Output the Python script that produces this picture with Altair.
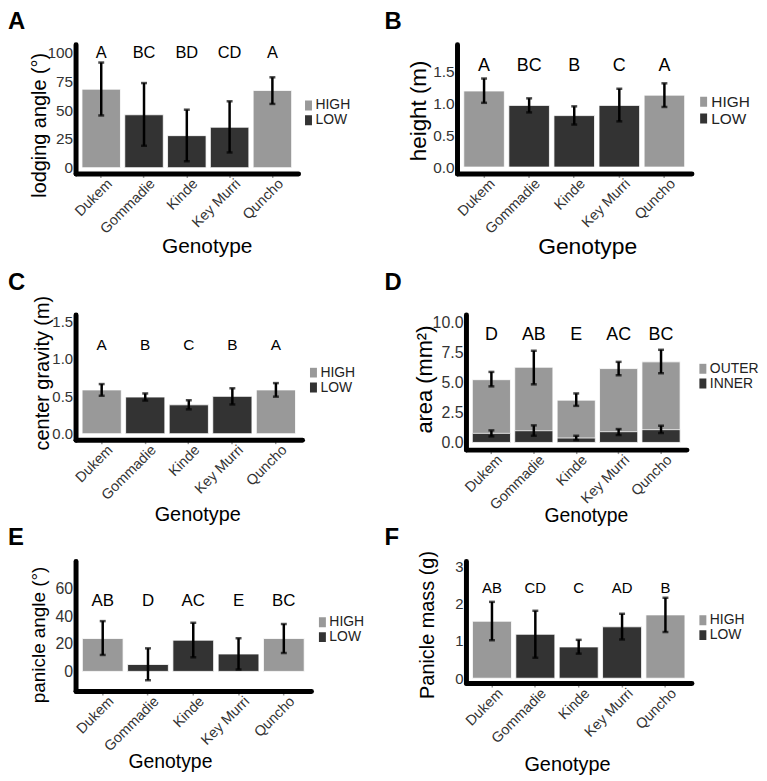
import altair as alt
import pandas as pd

FONT = "Liberation Sans"
LIGHT = "#999999"
DARK = "#333333"
LEG_SHAPE = "M-0.7,-1L0.7,-1L0.7,1L-0.7,1Z"

GENOTYPES = ["Dukem", "Gommadie", "Kinde", "Key Murri", "Quncho"]
GROUP = ["HIGH", "LOW", "LOW", "LOW", "HIGH"]

# A: lodging angle
lodging_mean = [68.1, 45.9, 27.8, 35.1, 67.0]
lodging_low = [45.3, 19.0, 5.6, 13.2, 55.3]
lodging_high = [91.2, 73.4, 50.3, 57.6, 78.4]
lodging_letters = ["A", "BC", "BD", "CD", "A"]

# B: height
height_mean = [1.19, 0.965, 0.805, 0.965, 1.125]
height_low = [1.005, 0.855, 0.665, 0.715, 0.94]
height_high = [1.385, 1.075, 0.95, 1.225, 1.31]
height_letters = ["A", "BC", "B", "C", "A"]

# C: center gravity
cog_mean = [0.584, 0.489, 0.385, 0.498, 0.584]
cog_low = [0.506, 0.442, 0.325, 0.39, 0.494]
cog_high = [0.662, 0.537, 0.446, 0.606, 0.675]
cog_letters = ["A", "B", "C", "B", "A"]

# D: area (outer and inner)
outer_mean = [5.25, 6.29, 3.54, 6.18, 6.74]
outer_low = [4.69, 4.86, 3.06, 5.62, 5.79]
outer_high = [5.9, 7.67, 4.1, 6.74, 7.75]
inner_mean = [0.76, 0.98, 0.37, 0.9, 1.07]
inner_low = [0.51, 0.56, 0.2, 0.62, 0.79]
inner_high = [1.01, 1.43, 0.56, 1.12, 1.4]
area_letters = ["D", "AB", "E", "AC", "BC"]
OUTER = ["OUTER"] * 5
INNER = ["INNER"] * 5

# E: panicle angle
pangle_mean = [23.8, 5.0, 22.6, 12.6, 23.8]
pangle_low = [11.9, -6.4, 10.2, 1.4, 13.3]
pangle_high = [36.4, 16.7, 35.2, 24.0, 34.3]
pangle_letters = ["AB", "D", "AC", "E", "BC"]

# F: panicle mass
pmass_mean = [1.53, 1.18, 0.84, 1.38, 1.70]
pmass_low = [1.02, 0.55, 0.66, 1.04, 1.24]
pmass_high = [2.05, 1.81, 1.03, 1.73, 2.16]
pmass_letters = ["AB", "CD", "C", "AD", "B"]


def make_panel(tag, ytitle, series, letters, letter_y, ydomain, yticks, yfmt,
               legend_domain, g):
    rows = []
    for cats, mean, low, high in series:
        for i, gname in enumerate(GENOTYPES):
            rows.append({"genotype": gname, "cat": cats[i], "mean": mean[i],
                         "low": low[i], "high": high[i]})
    df = pd.DataFrame(rows)
    ldf = pd.DataFrame({"genotype": GENOTYPES, "letter": letters,
                        "ly": [letter_y] * len(GENOTYPES)})
    tdf = pd.DataFrame({"t": [tag]})

    W, H = g["W"], g["H"]
    xscale = alt.Scale(domain=GENOTYPES, paddingInner=0.1, paddingOuter=0.15)
    xaxis = alt.Axis(
        title="Genotype", labelAngle=-45, labelAlign="right", labelBaseline="top",
        labelFont=FONT, labelFontSize=14.5, labelColor="#333333", labelPadding=-1,
        labelOffset=4, labelOverlap=False, ticks=True, tickSize=4,
        tickColor="#999999", tickWidth=1.5, domain=True, domainColor="black",
        domainWidth=5, domainCap="round", grid=False, titleFont=FONT,
        titleFontSize=g["xt"][2], titleFontWeight="normal", titleColor="black",
        titleX=g["xt"][0], titleY=g["xt"][1], titleBaseline="middle",
        titleAlign="center")
    yscale = alt.Scale(domain=ydomain, nice=False, zero=False)
    yaxis = alt.Axis(
        title=ytitle, values=yticks, format=yfmt, labelFont=FONT,
        labelFontSize=g["tick_fs"], labelColor="#333333", labelPadding=3,
        ticks=False, tickSize=0, domain=True, domainColor="black", domainWidth=5,
        domainCap="round", grid=False, labelFlush=False, labelOverlap=False,
        titleFont=FONT, titleFontSize=g["yt"][2], titleFontWeight="normal",
        titleColor="black", titleX=g["yt"][0], titleY=g["yt"][1],
        titleBaseline="middle", titleAlign="center")
    X = alt.X("genotype:N", scale=xscale, axis=xaxis, sort=GENOTYPES)

    box = alt.Chart(tdf).mark_rect(opacity=0).encode(
        x=alt.value(-g["L"]), x2=alt.value(W + g["R"]),
        y=alt.value(-g["T"]), y2=alt.value(H + g["B"]))

    bars = alt.Chart(df).mark_bar(stroke="white", strokeWidth=0.8).encode(
        x=X,
        y=alt.Y("mean:Q", scale=yscale, axis=yaxis),
        y2=alt.datum(0),
        color=alt.Color("cat:N", scale=alt.Scale(domain=legend_domain,
                                                 range=[LIGHT, DARK]),
                        legend=alt.Legend(
                            title=None, orient="none", legendX=g["leg"][0],
                            legendY=g["leg"][1], symbolType=LEG_SHAPE,
                            symbolSize=100, symbolStrokeWidth=0, symbolOpacity=1,
                            labelFont=FONT, labelFontSize=g["leg"][2],
                            labelColor="#222222", labelOffset=0, rowPadding=0,
                            clipHeight=g["leg"][3], padding=0)))
    rules = alt.Chart(df).mark_rule(color="black", strokeWidth=2.5).encode(
        x=X, y=alt.Y("low:Q", scale=yscale, axis=yaxis), y2="high:Q")
    cap_lo = alt.Chart(df).mark_tick(color="black", thickness=2.5, size=6).encode(
        x=X, y=alt.Y("low:Q", scale=yscale, axis=yaxis))
    cap_hi = alt.Chart(df).mark_tick(color="black", thickness=2.5, size=6).encode(
        x=X, y=alt.Y("high:Q", scale=yscale, axis=yaxis))
    text = alt.Chart(ldf).mark_text(font=FONT, fontSize=g["lt_fs"], color="black",
                                    baseline="middle").encode(
        x=X, y=alt.Y("ly:Q", scale=yscale, axis=yaxis), text="letter:N")
    label = alt.Chart(tdf).mark_text(font=FONT, fontSize=24, fontWeight="bold",
                                     align="left", baseline="top",
                                     color="black").encode(
        x=alt.value(g["letter"][0]), y=alt.value(g["letter"][1]), text="t:N")
    return alt.layer(box, bars, rules, cap_lo, cap_hi, text, label).properties(
        width=W, height=H)


gA = dict(W=224, H=130, L=68, T=34, R=85, B=98, letter=(-68, -34),
          yt=(-36, 81, 20), xt=(132, 74, 21), lt_fs=16.5, tick_fs=15.5,
          leg=(227.5, 56, 14, 11))
gB = dict(W=236, H=130, L=75, T=34, R=60, B=98, letter=(-73, -34),
          yt=(-39, 66.5, 22.5), xt=(131, 74, 23), lt_fs=18, tick_fs=15.5,
          leg=(240.5, 52, 15.5, 11.5))
gC = dict(W=228, H=126, L=68, T=44, R=82, B=87, letter=(-68, -44),
          yt=(-33.5, 58.5, 20), xt=(122.5, 75, 20), lt_fs=15.5, tick_fs=15,
          leg=(232.5, 53, 14, 11))
gD = dict(W=222, H=136, L=83, T=44, R=65, B=77, letter=(-82, -44),
          yt=(-41.7, 65, 22), xt=(120.7, 66, 19.5), lt_fs=18, tick_fs=16,
          leg=(231.5, 49, 14, 11))
gE = dict(W=237, H=131, L=68, T=35, R=73, B=85, letter=(-68, -35),
          yt=(-37.7, 74, 19), xt=(95, 71, 19.5), lt_fs=17, tick_fs=16,
          leg=(241.5, 56, 14, 11.5))
gF = dict(W=227, H=123, L=83, T=35, R=60, B=93, letter=(-82, -35),
          yt=(-39, 64, 20), xt=(101.7, 82, 20), lt_fs=15, tick_fs=15,
          leg=(231.5, 54, 14, 11.5))

pA = make_panel("A", "lodging angle (°)",
                [(GROUP, lodging_mean, lodging_low, lodging_high)],
                lodging_letters, 99.5, [-5, 107], [0, 25, 50, 75, 100], "d",
                ["HIGH", "LOW"], gA)
pB = make_panel("B", "height (m)",
                [(GROUP, height_mean, height_low, height_high)],
                height_letters, 1.58, [-0.1, 1.92], [0.0, 0.5, 1.0, 1.5], ".1f",
                ["HIGH", "LOW"], gB)
pC = make_panel("C", "center gravity (m)",
                [(GROUP, cog_mean, cog_low, cog_high)],
                cog_letters, 1.18, [-0.08, 1.59], [0.0, 0.5, 1.0, 1.5], ".1f",
                ["HIGH", "LOW"], gC)
pD = make_panel("D", "area (mm²)",
                [(OUTER, outer_mean, outer_low, outer_high),
                 (INNER, inner_mean, inner_low, inner_high)],
                area_letters, 9.0, [-0.6, 10.7], [0.0, 2.5, 5.0, 7.5, 10.0], ".1f",
                ["OUTER", "INNER"], gD)
pE = make_panel("E", "panicle angle (°)",
                [(GROUP, pangle_mean, pangle_low, pangle_high)],
                pangle_letters, 51, [-14.2, 80], [0, 20, 40, 60], "d",
                ["HIGH", "LOW"], gE)
pF = make_panel("F", "Panicle mass (g)",
                [(GROUP, pmass_mean, pmass_low, pmass_high)],
                pmass_letters, 2.43, [-0.13, 3.15], [0, 1, 2, 3], "d",
                ["HIGH", "LOW"], gF)


def row(a, b):
    return alt.hconcat(a, b, spacing=0).resolve_scale(
        color="independent").resolve_legend(color="independent")


chart = alt.vconcat(row(pA, pB), row(pC, pD), row(pE, pF), spacing=0).resolve_scale(
    color="independent").resolve_legend(color="independent").properties(
    padding=0).configure(font=FONT, background="white").configure_view(stroke=None)

chart.save("out.html", embed_options={"renderer": "svg", "actions": False})
